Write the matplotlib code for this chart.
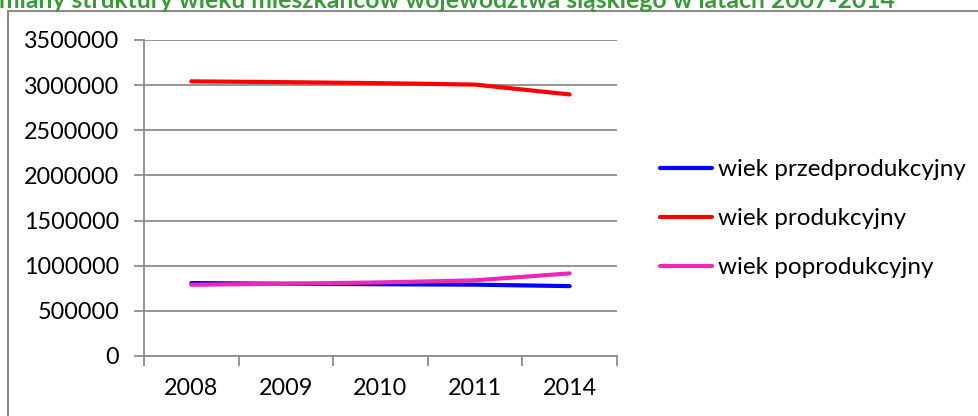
import matplotlib
matplotlib.use("Agg")
import matplotlib.pyplot as plt
from matplotlib.patches import Rectangle

# Population by economic age group, Silesian Voivodeship
years = ["2008", "2009", "2010", "2011", "2014"]
przedprodukcyjny = [808000, 800000, 795000, 790000, 774000]
produkcyjny = [3042000, 3033000, 3022000, 3006000, 2897000]
poprodukcyjny = [789000, 800000, 815000, 838000, 915000]
series_labels = ["wiek przedprodukcyjny", "wiek produkcyjny", "wiek poprodukcyjny"]
y_ticks = [0, 500000, 1000000, 1500000, 2000000, 2500000, 3000000, 3500000]
title = "Zmiany struktury wieku mieszkańców województwa śląskiego w latach 2007-2014"

W, H = 979, 416
plt.rcParams["font.family"] = ["Lato", "DejaVu Sans"]
fig = plt.figure(figsize=(W / 100, H / 100), dpi=100)

def px(x0, y0, x1, y1):
    return [x0 / W, 1 - y1 / H, (x1 - x0) / W, (y1 - y0) / H]

# outer chart frame (left and top edges visible)
fig.patches.append(Rectangle((8 / W, -0.1), 1.2, 1 - 11 / H + 0.1,
                             transform=fig.transFigure, fill=False,
                             edgecolor="#8c8c8c", linewidth=1.5))

fig.text(895 / W, 1 - 7.5 / H, title, ha="right", va="baseline",
         color="#3a9a3a", fontsize=17.8, fontweight="bold")

ax = fig.add_axes(px(144, 40, 617, 356))
grid_c = "#8c8c8c"
x = list(range(len(years)))
colors = ["#0000ff", "#ff0000", "#ee27b7"]
for vals, lab, c in zip([przedprodukcyjny, produkcyjny, poprodukcyjny], series_labels, colors):
    ax.plot(x, vals, color=c, linewidth=3, label=lab, solid_capstyle="round")

ax.set_xlim(-0.5, len(years) - 0.5)
ax.set_ylim(0, 3500000)
ax.set_yticks(y_ticks)
ax.set_yticklabels([str(v) for v in y_ticks])
ax.yaxis.grid(True, color=grid_c, linewidth=1.3)
ax.set_axisbelow(True)

ax.set_xticks(x)
ax.set_xticklabels(years)
ax.set_xticks([i - 0.5 for i in range(len(years) + 1)], minor=True)
ax.tick_params(axis="x", which="major", length=0, pad=16, labelsize=16.8)
ax.tick_params(axis="x", which="minor", length=7, width=1.3, color=grid_c)
ax.tick_params(axis="y", length=7, width=1.3, color=grid_c, pad=11, labelsize=16.8)

for s in ["top", "right"]:
    ax.spines[s].set_visible(False)
for s in ["left", "bottom"]:
    ax.spines[s].set_color(grid_c)
    ax.spines[s].set_linewidth(1.3)

leg = ax.legend(loc="center left", bbox_to_anchor=(1.07, 0.435), frameon=False,
                fontsize=17.5, handlelength=2.15, handletextpad=0.25,
                labelspacing=1.15, borderaxespad=0)

fig.savefig("out.png", dpi=100)
